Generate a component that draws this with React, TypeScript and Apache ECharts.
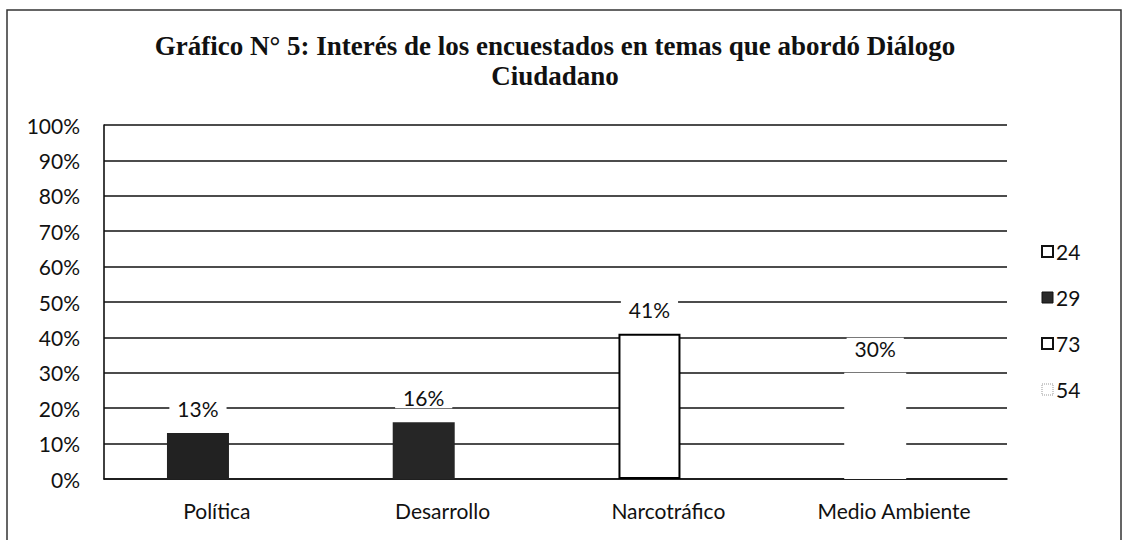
import React, { useEffect, useRef } from "react";
import * as echarts from "echarts";

const categories = ["Política", "Desarrollo", "Narcotráfico", "Medio Ambiente"];
const seriesNames = ["24", "29", "73", "54"];
const percentValues = [13, 16, 41, 30];
const yTicks = [0, 10, 20, 30, 40, 50, 60, 70, 80, 90, 100];

const FONT = "Lato";
const FS = 21;

export default function App() {
  const ref = useRef<HTMLDivElement>(null);
  useEffect(() => {
    document.body.style.margin = "0";
    const chart = echarts.init(ref.current!, null, { renderer: "svg" });
    const barStyles = [
      { color: "#222222" },
      { color: "#262626" },
      { color: "#ffffff", borderColor: "#000000", borderWidth: 2 },
      { color: "#ffffff" },
    ];
    const legendStyles = [
      { color: "#ffffff", borderColor: "#111", borderWidth: 2 },
      { color: "#2a2a2a", borderColor: "#111", borderWidth: 1 },
      { color: "#ffffff", borderColor: "#111", borderWidth: 2 },
      { color: "#ffffff", borderColor: "#999", borderWidth: 1, borderType: "dotted" },
    ];
    const series: any[] = seriesNames.map((name, i) => ({
      name,
      type: "bar",
      stack: "main",
      barWidth: 62,
      barGap: "-39%",
      data: categories.map((_, j) => (j === i ? percentValues[i] : "-")),
      itemStyle: barStyles[i],
      label: {
        show: true,
        position: "top",
        distance: 14,
        formatter: "{c}%",
        fontFamily: FONT,
        fontSize: FS,
        color: "#111",
        backgroundColor: "#ffffff",
        padding: [0, 8],
      },
      z: 3,
    }));
    series.push({
      name: "spacer",
      type: "bar",
      stack: "spacer",
      barWidth: 62,
      data: categories.map(() => "-"),
      itemStyle: { color: "transparent" },
    });
    chart.setOption({
      animation: false,
      backgroundColor: "#ffffff",
      textStyle: { fontFamily: FONT },
      graphic: [
        {
          type: "rect",
          shape: { x: 7, y: 10, width: 1114, height: 540 },
          style: { fill: "none", stroke: "#333", lineWidth: 1.5 },
          silent: true,
        },
        {
          type: "text",
          x: 555,
          y: 31,
          style: {
            text: "Gráfico N° 5: Interés de los encuestados en temas que abordó Diálogo\nCiudadano",
            fontFamily: "Liberation Serif",
            fontWeight: "bold",
            fontSize: 27,
            lineHeight: 30,
            fill: "#111",
            textAlign: "center",
          },
        },
      ],
      legend: {
        orient: "vertical",
        left: 1036,
        top: 236,
        itemWidth: 11,
        itemHeight: 11,
        itemGap: 25,
        icon: "rect",
        textStyle: { fontFamily: FONT, fontSize: FS, color: "#111", padding: [0, 0, 0, -2] },
        data: seriesNames.map((n, i) => ({ name: n, itemStyle: legendStyles[i] })),
      },
      grid: { left: 104, right: 115, top: 125, bottom: 61, containLabel: false },
      xAxis: {
        type: "category",
        data: categories,
        axisLine: { show: true, lineStyle: { color: "#111", width: 1.6 } },
        axisTick: { show: false },
        axisLabel: { fontFamily: FONT, fontSize: FS, color: "#111", margin: 21 },
      },
      yAxis: {
        type: "value",
        min: 0,
        max: 100,
        interval: 10,
        axisLine: { show: true, lineStyle: { color: "#111", width: 1.6 } },
        axisTick: { show: false },
        axisLabel: {
          fontFamily: FONT,
          fontSize: FS,
          color: "#111",
          margin: 24,
          formatter: (v: number) => (yTicks.includes(v) ? v + "%" : ""),
        },
        splitLine: { show: true, lineStyle: { color: "#111", width: 1.6 } },
      },
      series,
    });
    return () => chart.dispose();
  }, []);
  return <div ref={ref} style={{ width: 1122, height: 540 }} />;
}
